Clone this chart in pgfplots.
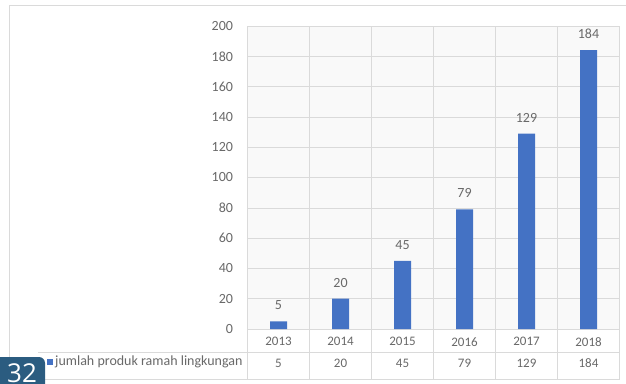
\documentclass[border=0pt]{standalone}
\usepackage{pgfplots}
\pgfplotsset{compat=1.18}
\usepackage{fontspec}
\setmainfont{Carlito}
\newfontfamily\pagefont{Open Sans}
\definecolor{barblue}{RGB}{68,114,196}
\definecolor{txtgray}{RGB}{105,105,105}
\definecolor{gridgray}{RGB}{218,218,218}
\definecolor{plotbg}{RGB}{249,249,249}
\definecolor{pagebox}{RGB}{43,92,128}
\begin{document}
\begin{tikzpicture}[x=1pt,y=1pt]
\useasboundingbox (0,0) rectangle (626,383);
\fill[white] (0,0) rectangle (626,383);
% outer chart frame
\draw[gridgray, line width=0.8pt] (9,0) -- (9,378) -- (626,378);
\begin{axis}[
  at={(247.5pt,54pt)}, anchor=south west,
  scale only axis, width=372pt, height=303pt,
  xmin=-0.5, xmax=5.5, ymin=0, ymax=200,
  ybar, bar width=17pt,
  axis background/.style={fill=plotbg},
  ytick={0,20,...,200},
  xtick={0,...,5},
  xticklabels={{2013\\5},{2014\\20},{2015\\45},{2016\\79},{2017\\129},{2018\\184}},
  minor xtick={-0.5,0.5,...,5.5},
  xminorgrids, ymajorgrids,
  grid style={gridgray, line width=0.6pt},
  minor grid style={gridgray, line width=0.6pt},
  major tick length=0pt, minor tick length=0pt,
  axis line style={gridgray, line width=0.6pt},
  /pgf/number format/assume math mode=true,
  yticklabel style={font=\fontsize{14}{16}\selectfont, text=txtgray, anchor=east, xshift=-11pt},
  xticklabel style={font=\fontsize{13}{21.5}\selectfont, text=txtgray, align=center, anchor=north, yshift=-5pt},
  nodes near coords,
  nodes near coords style={font=\fontsize{14}{16}\selectfont, text=txtgray, yshift=8pt},
  clip=false,
]
\addplot[fill=barblue, draw=none] coordinates {(0,5) (1,20) (2,45) (3,79) (4,129) (5,184)};
% data table lines
\pgfplotsinvokeforeach{-0.5,0.5,1.5,2.5,3.5,4.5,5.5}{
  \draw[gridgray, line width=0.6pt] (axis cs:#1,0) -- ([yshift=-50pt]axis cs:#1,0);
}
\end{axis}
\draw[gridgray, line width=0.6pt] (38,31) -- (619.5,31);
\draw[gridgray, line width=0.6pt] (38,4) -- (619.5,4);
% legend key in table
\fill[barblue] (47,18) rectangle (53,24);
\node[anchor=west, inner sep=0pt, text=txtgray, font=\fontsize{14}{16}\selectfont] at (55,21) {jumlah produk ramah lingkungan};
% page number box
\fill[pagebox, rounded corners=6pt] (-6,-10) rectangle (45,26);
\node[anchor=base, inner sep=0pt, text=white, font=\pagefont\fontsize{26}{30}\selectfont] at (22,0.5) {32};
\end{tikzpicture}
\end{document}
